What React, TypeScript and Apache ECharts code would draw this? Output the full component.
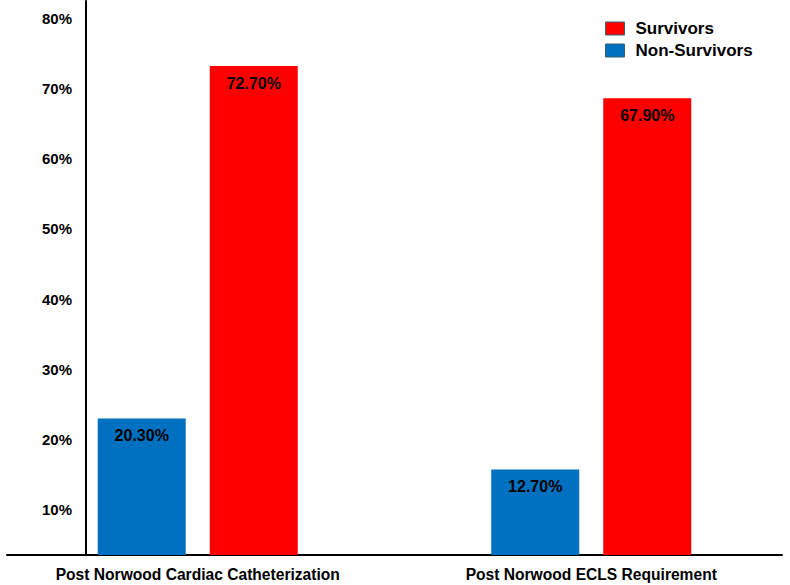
import React, { useEffect, useRef } from "react";
import * as echarts from "echarts";

const categories = ["Post Norwood Cardiac Catheterization", "Post Norwood ECLS Requirement"];
const nonSurvivors = [20.3, 12.7];
const survivors = [72.7, 67.9];
const yTicks = [0, 10, 20, 30, 40, 50, 60, 70, 80];

const FONT = "'Liberation Sans', Arial, Helvetica, sans-serif";

export default function App() {
  const ref = useRef<HTMLDivElement>(null);
  useEffect(() => {
    if (!ref.current) return;
    const chart = echarts.init(ref.current, undefined, { renderer: "svg" });
    const label = {
      show: true,
      position: "insideTop",
      distance: 9,
      color: "#000",
      fontFamily: FONT,
      fontWeight: "bold",
      fontSize: 16,
      formatter: (p: any) => p.value.toFixed(2) + "%",
    };
    chart.setOption({
      animation: false,
      backgroundColor: "#fff",
      legend: {
        data: ["Survivors", "Non-Survivors"],
        orient: "vertical",
        left: 600,
        top: 15,
        itemWidth: 19,
        itemHeight: 13,
        itemGap: 5,
        icon: "rect",
        textStyle: { color: "#000", fontFamily: FONT, fontWeight: "bold", fontSize: 17, padding: [0, 0, 0, 6] },
        itemStyle: { borderColor: "#35656f", borderWidth: 1 },
      },
      grid: [
        { left: 1, width: 787, top: 17, height: 538 },
        { left: 86, right: 8, top: 18, height: 562 },
        { left: 86, width: 1, top: 1, height: 554 },
        { left: 7, right: 8, top: 0, height: 555 },
      ],
      xAxis: [
        {
          gridIndex: 0,
          type: "category",
          data: categories,
          axisLine: { show: false },
          axisTick: { show: false },
          axisLabel: { color: "#000", fontFamily: FONT, fontWeight: "bold", fontSize: 15.6, margin: 11 },
        },
        { gridIndex: 1, type: "value", min: 0, max: 1, show: false },
        { gridIndex: 2, type: "value", min: 0, max: 1, show: false },
        {
          gridIndex: 3,
          type: "value",
          min: 0,
          max: 1,
          position: "bottom",
          axisLine: { show: true, lineStyle: { color: "#000", width: 2 } },
          axisTick: { show: false },
          axisLabel: { show: false },
          splitLine: { show: false },
        },
      ],
      yAxis: [
        { gridIndex: 0, type: "value", min: 0, max: 80, show: false },
        {
          gridIndex: 1,
          type: "value",
          min: yTicks[0],
          max: yTicks[yTicks.length - 1],
          interval: 10,
          axisLine: { show: false },
          axisTick: { show: false },
          splitLine: { show: false },
          axisLabel: {
            color: "#000",
            fontFamily: FONT,
            fontWeight: "bold",
            fontSize: 15,
            margin: 14,
            formatter: (v: number) => (v === 0 ? "" : v + "%"),
          },
        },
        {
          gridIndex: 2,
          type: "value",
          min: 0,
          max: 1,
          axisLine: { show: true, lineStyle: { color: "#000", width: 2 } },
          axisTick: { show: false },
          axisLabel: { show: false },
          splitLine: { show: false },
        },
        { gridIndex: 3, type: "value", min: 0, max: 1, show: false },
      ],
      series: [
        {
          name: "Non-Survivors",
          type: "bar",
          xAxisIndex: 0,
          yAxisIndex: 0,
          data: nonSurvivors,
          barWidth: 88,
          barGap: "27.3%",
          itemStyle: { color: "#0070C0" },
          label,
        },
        {
          name: "Survivors",
          type: "bar",
          xAxisIndex: 0,
          yAxisIndex: 0,
          data: survivors,
          barWidth: 88,
          barGap: "27.3%",
          itemStyle: { color: "#FF0000" },
          label,
        },
      ],
    });
    return () => chart.dispose();
  }, []);
  return <div ref={ref} style={{ position: "fixed", left: 0, top: 0, width: 790, height: 585 }} />;
}
